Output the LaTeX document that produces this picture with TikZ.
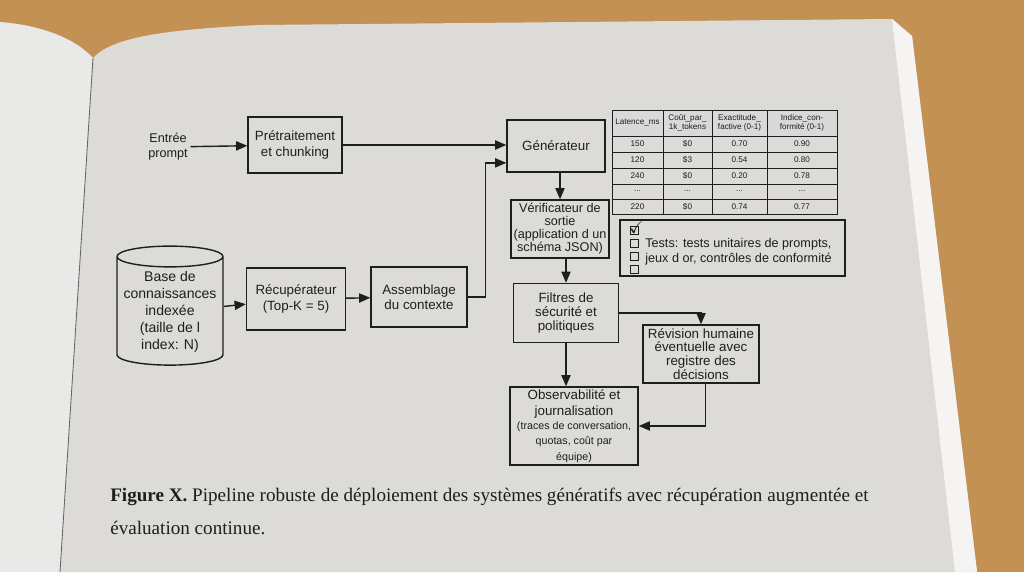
\documentclass[tikz,border=0pt]{standalone}
\usepackage{fontspec}
\setmainfont{Liberation Serif}
\setsansfont{Liberation Sans}
\usepackage{amssymb}
\usepackage{tikz}
\usetikzlibrary{arrows.meta,shapes.geometric}

\definecolor{wood}{HTML}{C49155}
\definecolor{paper}{HTML}{DCDBD7}
\definecolor{leftpaper}{HTML}{E9E9E8}
\definecolor{ink}{HTML}{1E1E1E}
\newcommand{\celldots}{...}

\tikzset{
  box/.style={draw=ink,line width=1pt,align=center,inner sep=1.5pt,text=ink,
    font=\sffamily\fontsize{9.5}{11}\selectfont},
  flow/.style={draw=ink,line width=1pt,-{Triangle[length=2.8mm,width=2.3mm]}},
  cell/.style={align=center,inner sep=0pt,text=ink,font=\sffamily\fontsize{5.8}{6.4}\selectfont},
  tickbox/.style={draw=ink,line width=0.6pt,minimum size=2mm,inner sep=0pt}
}

\begin{document}
\begin{tikzpicture}[x=0.25mm,y=-0.25mm]
  \fill[wood] (0,0) rectangle (1024,572);
  \fill[leftpaper] (0,572) -- (0,22) .. controls (40,25) and (75,38) .. (93,58) -- (60,572) -- cycle;
  \fill[paper] (60,572) -- (93,58) .. controls (110,40) and (150,30) .. (260,25) -- (892,19) -- (912,36) -- (977,572) -- cycle;
  \fill[white!70!paper] (892,19) -- (912,36) -- (977,572) -- (955,572) -- cycle;
  \draw[black!60,line width=0.6pt] (93,58) -- (60,572);
  \useasboundingbox (0,0) rectangle (1024,572);

  \node[box,draw=none,font=\sffamily\fontsize{9}{10.5}\selectfont] (in) at (168,147) {Entrée\\prompt};
  \node[box,minimum width=23.5mm,minimum height=14mm] (pre) at (295,145) {Prétraitement\\et chunking};
  \node[box,minimum width=24.5mm,minimum height=13mm] (gen) at (556,146) {Générateur};
  \node[box,minimum width=24.5mm,minimum height=14.5mm,inner sep=1pt,
    font=\sffamily\fontsize{9}{9.3}\selectfont] (ver) at (560,229) {Vérificateur de\\sortie\\(application d un\\schéma JSON)};
  \node[box,minimum width=26.25mm,minimum height=14.75mm,
    font=\sffamily\fontsize{9.5}{10}\selectfont] (fil) at (566,313) {Filtres de\\sécurité et\\politiques};
  \node[box,minimum width=29mm,minimum height=14.5mm,inner sep=1pt,
    font=\sffamily\fontsize{9.5}{9.8}\selectfont] (rev) at (701,354) {Révision humaine\\éventuelle avec\\registre des\\décisions};
  \node[box,minimum width=32mm,minimum height=19.5mm,inner sep=1pt] (obs) at (574,426)
    {Observabilité et\\journalisation\\[-1pt]{\fontsize{7.6}{9}\selectfont(traces de conversation,}\\
     {\fontsize{7.6}{9}\selectfont quotas, coût par}\\{\fontsize{7.6}{9}\selectfont équipe)}};
  \node[box,shape=cylinder,shape border rotate=90,aspect=0.22,minimum width=26.5mm,minimum height=29.75mm,
    inner sep=0.5pt,font=\sffamily\fontsize{10}{12}\selectfont] (db) at (170,312)
    {Base de\\connaissances\\indexée\\(taille de l\\index: N)};
  \node[box,minimum width=24.75mm,minimum height=15.5mm] (ret) at (296,299) {Récupérateur\\(Top-K = 5)};
  \node[box,minimum width=24mm,minimum height=15mm] (asm) at (419,297) {Assemblage\\du contexte};

  \draw[flow] (in) -- (pre);
  \draw[flow] (pre) -- (pre -| gen.west);
  \draw[flow] (asm.east) -- ++(18,0) |- ([yshift=-12pt]gen.west);
  \draw[flow] (ver.north |- gen.south) -- (ver.north);
  \draw[flow] (fil.north |- ver.south) -- (fil.north);
  \draw[flow] (fil.east) -| (rev.north);
  \draw[flow] (fil.south) -- (fil.south |- obs.north);
  \draw[flow] ([xshift=3pt]rev.south) |- (obs.east);
  \draw[flow] (db) -- (ret);
  \draw[flow] (ret) -- (asm);

  \fill[gray!30] (612,110) rectangle (837,136);
  \draw[ink,line width=0.6pt] (612,110) rectangle (837,214);
  \foreach \y in {136,152,168,184,199} \draw[ink,line width=0.5pt] (612,\y) -- (837,\y);
  \foreach \x in {663,712,767} \draw[ink,line width=0.5pt] (\x,110) -- (\x,214);
  \node[cell] (h1) at (637.5,123) {Latence\_ms};
  \node[cell] (h2) at (687.5,123) {Coût\_par\_\\1k\_tokens};
  \node[cell] (h3) at (739.5,123) {Exactitude\_\\factive (0-1)};
  \node[cell] (h4) at (802,123) {Indice\_con-\\formité (0-1)};
  \foreach \y/\a/\b/\c/\d [count=\i] in {144/150/\$0/0.70/0.90, 160/120/\$3/0.54/0.80,
      176/240/\$0/0.20/0.78, 191.5/\celldots/\celldots/\celldots/\celldots, 206.5/220/\$0/0.74/0.77} {
    \node[cell] (r\i a) at (637.5,\y) {\a};
    \node[cell] (r\i b) at (687.5,\y) {\b};
    \node[cell] (r\i c) at (739.5,\y) {\c};
    \node[cell] (r\i d) at (802,\y) {\d};
  }

  \node[draw=ink,line width=1pt,minimum width=56.25mm,minimum height=14mm] (tests) at (732.5,248) {};
  \foreach \y [count=\k] in {230,243,256,269} \node[tickbox] (cb\k) at (634,\y) {};
  \node[anchor=base west,inner sep=0pt,text=ink,font=\large] (ck) at ([xshift=-0.4pt,yshift=-2.8pt]cb1.west) {$\checkmark$};
  \node[anchor=west,align=left,inner sep=0pt,text=ink,font=\sffamily\fontsize{9}{10.5}\selectfont] (ttxt) at (645,252)
    {Tests: tests unitaires de prompts,\\jeux d or, contrôles de conformité};

  \node[anchor=base west,inner sep=0pt,text=ink,font=\fontsize{13.6}{16}\selectfont] (cap1) at (110,501)
    {\textbf{Figure X.} Pipeline robuste de déploiement des systèmes génératifs avec récupération augmentée et};
  \node[anchor=base west,inner sep=0pt,text=ink,font=\fontsize{13.6}{16}\selectfont] (cap2) at (110,534)
    {évaluation continue.};
\end{tikzpicture}
\end{document}
